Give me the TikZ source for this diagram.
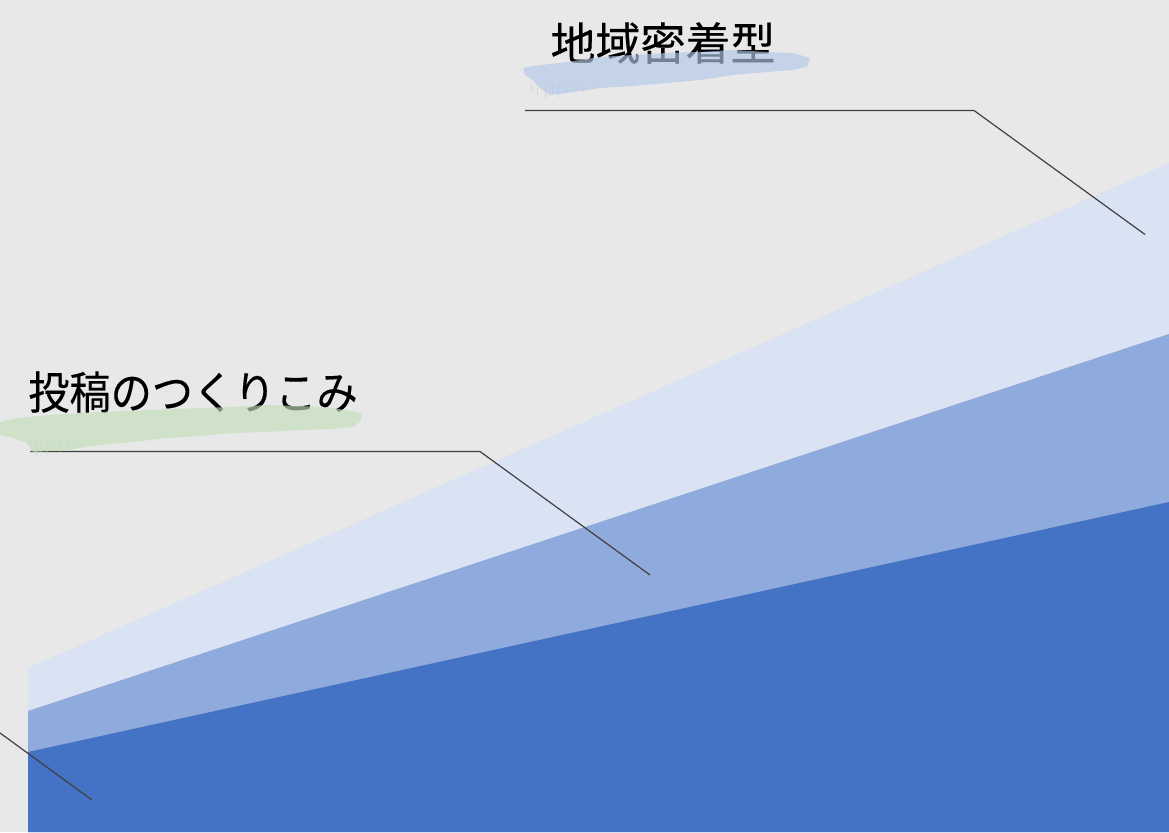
\documentclass[tikz,border=0pt]{standalone}
\usepackage{fontspec}
\newfontfamily\cjk[FakeBold=0.35]{Noto Sans CJK JP}
\definecolor{bg}{HTML}{E8E8E8}
\definecolor{bandA}{HTML}{DAE3F3}
\definecolor{bandB}{HTML}{8FAADC}
\definecolor{bandC}{HTML}{4472C4}
\definecolor{leader}{HTML}{404040}
\definecolor{brushblue}{RGB}{178,200,232}
\definecolor{brushgreen}{RGB}{196,222,186}
\tikzset{
  leaderline/.style={draw=leader, line width=1.2pt, line join=miter},
  label/.style={font=\cjk\fontsize{45}{45}\selectfont, text=black, inner sep=0pt},
  brush/.style={opacity=0.65, draw=none},
  streak/.style={opacity=0.5, line width=1pt},
}
\begin{document}
\begin{tikzpicture}[x=1pt,y=-1pt]
\useasboundingbox (0,0) rectangle (1169,832);
\fill[bg] (0,0) rectangle (1169,832);
% bands
\fill[bandA] (28,668) -- (1169,163) -- (1169,832) -- (28,832) -- cycle;
\fill[bandB] (28,711) -- (1169,334) -- (1169,832) -- (28,832) -- cycle;
\fill[bandC] (28,752) -- (1169,502) -- (1169,832) -- (28,832) -- cycle;
% leader coordinates
\coordinate (t1) at (525,110.5);
\coordinate (t2) at (974,110.5);
\coordinate (t3) at (1145,234.5);
\coordinate (m1) at (30,451.5);
\coordinate (m2) at (480,451.5);
\coordinate (m3) at (650,575);
\coordinate (b1) at (-20,718.4);
\coordinate (b2) at (92,800);
\begin{scope}
\clip (0,0) rectangle (1169,832);
\draw[leaderline] (t1) -- (t2) -- (t3);
\draw[leaderline] (m1) -- (m2) -- (m3);
\draw[leaderline] (b1) -- (b2);
\end{scope}
% labels
\node[label] (lab1) at (663,43) {地域密着型};
\node[label] (lab2) at (193,392) {\scalebox{0.915}[1]{投稿のつくりこみ}};
% brush strokes
\fill[brush, brushblue] (523,68) -- (533,66) -- (567,62) -- (600,57) -- (633,55) -- (667,53) -- (700,52) -- (733,50) -- (767,52) -- (793,53) -- (810,58)
  -- (807,67) -- (793,70) -- (767,72) -- (733,75) -- (700,80) -- (667,83) -- (633,86) -- (600,88) -- (567,93) -- (550,95) -- (540,88) -- (533,80) -- (525,75) -- cycle;
\foreach \x/\l in {531/8,537/12,545/15,552/10,558/14,566/9,575/7,583/8,592/6}
  \draw[streak, brushblue] (\x,84) -- ++(0,\l);
\fill[brush, brushgreen] (0,422) -- (17,418) -- (50,415) -- (100,412) -- (150,410) -- (200,408) -- (233,407) -- (267,405) -- (300,406) -- (333,408) -- (362,413)
  -- (360,422) -- (353,427) -- (333,429) -- (300,430) -- (267,432) -- (233,433) -- (200,436) -- (167,438) -- (133,442) -- (100,445) -- (67,450) -- (33,452) -- (27,443) -- (10,437) -- (0,435) -- cycle;
\foreach \x/\l in {30/14,36/18,41/12,47/16,54/10,60/13,68/9,74/8,82/6}
  \draw[streak, brushgreen] (\x,440) -- ++(0,\l);
\end{tikzpicture}
\end{document}
